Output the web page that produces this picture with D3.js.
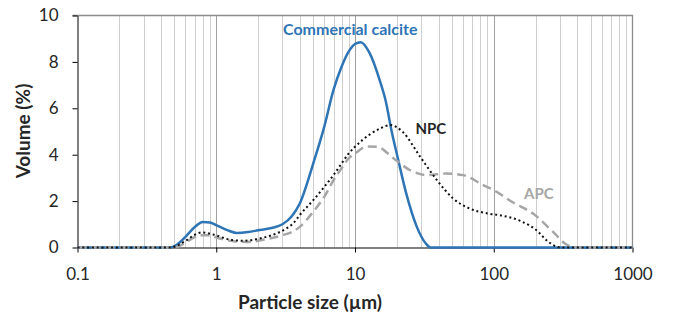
<!DOCTYPE html>
<html>
<head>
<meta charset="utf-8">
<script src="https://cdn.jsdelivr.net/npm/d3@7"></script>
<style>
  body { margin: 0; background: #fff; }
  svg { display: block; font-family: Lato, "Open Sans", sans-serif; }
</style>
</head>
<body>
<div id="container"></div>
<script>
const WIDTH = 677;
const HEIGHT = 316;
const LEFT = 77.5, RIGHT = 632.5, TOP = 15.5, BOTTOM = 247.5;

// particle size (µm) and volume (%)
const calciteSize = [0.1, 0.2, 0.3, 0.4, 0.46, 0.52, 0.6, 0.7, 0.8, 0.9, 1.0, 1.2, 1.4, 1.7, 2.0, 2.5, 3.0, 3.5, 4, 5, 6, 7, 8, 9, 10, 11, 12.7, 15.2, 16.6, 18.5, 20.5, 23.4, 27.9, 32.4, 35, 50, 100, 300, 1000];
const calciteVol = [0, 0, 0, 0, 0, 0.12, 0.46, 0.88, 1.1, 1.08, 0.96, 0.75, 0.63, 0.67, 0.74, 0.84, 1.0, 1.35, 1.9, 3.62, 5.2, 6.79, 7.79, 8.44, 8.77, 8.85, 8.4, 7.14, 6.35, 4.92, 3.77, 2.33, 0.89, 0.17, 0, 0, 0, 0, 0];

const npcSize = [0.1, 0.2, 0.3, 0.47, 0.52, 0.61, 0.7, 0.79, 0.95, 1.25, 1.57, 2.06, 2.7, 3.2, 3.6, 4, 5, 6, 7, 8, 9, 10, 12.7, 15.2, 18, 22, 29.5, 39, 51, 67, 90, 111, 155, 210, 240, 280, 300, 1000];
const npcVol = [0, 0, 0, 0, 0.08, 0.31, 0.55, 0.65, 0.56, 0.34, 0.29, 0.39, 0.6, 0.82, 1.05, 1.4, 2.04, 2.61, 3.12, 3.62, 4.05, 4.34, 4.86, 5.13, 5.28, 4.99, 3.91, 2.9, 2.11, 1.68, 1.47, 1.39, 1.15, 0.67, 0.31, 0.05, 0, 0];

const apcSize = [0.1, 0.2, 0.3, 0.48, 0.55, 0.61, 0.77, 0.86, 1.06, 1.33, 1.66, 2.3, 3.0, 3.5, 4, 5, 6, 7, 8, 9, 10, 12.1, 14.4, 19, 25, 33, 45.8, 60, 84, 100, 137, 193, 270, 330, 380, 1000];
const apcVol = [0, 0, 0, 0, 0.08, 0.24, 0.53, 0.53, 0.39, 0.27, 0.24, 0.36, 0.53, 0.67, 0.89, 1.54, 2.18, 2.9, 3.41, 3.84, 4.05, 4.35, 4.34, 3.84, 3.33, 3.12, 3.19, 3.12, 2.69, 2.47, 1.95, 1.45, 0.65, 0.15, 0, 0];

const xTicks = [0.1, 1, 10, 100, 1000];
const yTicks = [0, 2, 4, 6, 8, 10];
const minorGrid = [];
for (const d of [0.1, 1, 10, 100]) {
  for (let k = 2; k <= 9; k++) minorGrid.push(+(d * k).toPrecision(3));
}
const majorGrid = [1, 10, 100];

const svg = d3.select("#container")
  .append("svg")
  .attr("width", WIDTH)
  .attr("height", HEIGHT);

const x = d3.scaleLog().domain([0.1, 1000]).range([LEFT, RIGHT]);
const y = d3.scaleLinear().domain([0, 10]).range([BOTTOM, TOP]);

// vertical gridlines
svg.append("g")
  .selectAll("line")
  .data(minorGrid)
  .enter()
  .append("line")
  .attr("x1", (d) => Math.round(x(d)) + 0.5)
  .attr("x2", (d) => Math.round(x(d)) + 0.5)
  .attr("y1", TOP)
  .attr("y2", BOTTOM)
  .attr("stroke", "#cfcfcf")
  .attr("stroke-width", 1);

svg.append("g")
  .selectAll("line")
  .data(majorGrid)
  .enter()
  .append("line")
  .attr("x1", (d) => Math.round(x(d)) + 0.5)
  .attr("x2", (d) => Math.round(x(d)) + 0.5)
  .attr("y1", TOP)
  .attr("y2", BOTTOM)
  .attr("stroke", "#a0a0a0")
  .attr("stroke-width", 1);

// top and right border
svg.append("path")
  .attr("d", `M${LEFT - 5},${TOP}H${RIGHT}V${BOTTOM}`)
  .attr("fill", "none")
  .attr("stroke", "#8c8c8c")
  .attr("stroke-width", 1.3);

// axes
const xAxis = d3.axisBottom(x)
  .tickValues(xTicks)
  .tickFormat((d) => String(d))
  .tickSize(5)
  .tickSizeOuter(0)
  .tickPadding(15);

const yAxis = d3.axisLeft(y)
  .tickValues(yTicks)
  .tickSize(5)
  .tickSizeOuter(0)
  .tickPadding(14);

const gx = svg.append("g")
  .attr("transform", `translate(0, ${BOTTOM})`)
  .call(xAxis);
const gy = svg.append("g")
  .attr("transform", `translate(${LEFT}, 0)`)
  .call(yAxis);

[gx, gy].forEach((g) => {
  g.select(".domain").attr("stroke", "#000");
  g.selectAll(".tick line").attr("stroke", "#000");
  g.selectAll(".tick text")
    .attr("fill", "#262626")
    .style("font-size", "17px")
    .style("font-family", "Lato, sans-serif");
});

// series
const line = d3.line()
  .x((d) => x(d[0]))
  .y((d) => y(d[1]))
  .curve(d3.curveMonotoneX);

const zip = (a, b) => a.map((v, i) => [v, b[i]]);

svg.append("path")
  .datum(zip(calciteSize, calciteVol))
  .attr("d", line)
  .attr("fill", "none")
  .attr("stroke", "#2e75b6")
  .attr("stroke-width", 2.5);

svg.append("path")
  .datum(zip(apcSize, apcVol))
  .attr("d", line)
  .attr("fill", "none")
  .attr("stroke", "#a6a6a6")
  .attr("stroke-width", 2.5)
  .attr("stroke-dasharray", "9,5");

svg.append("path")
  .datum(zip(npcSize, npcVol))
  .attr("d", line)
  .attr("fill", "none")
  .attr("stroke", "#111")
  .attr("stroke-width", 2)
  .attr("stroke-dasharray", "2,2.8");

// series labels
svg.append("text")
  .attr("x", 283)
  .attr("y", 35)
  .attr("fill", "#2e75b6")
  .style("font-size", "16px")
  .style("font-weight", "bold")
  .text("Commercial calcite");

svg.append("text")
  .attr("x", 415.5)
  .attr("y", 133.5)
  .attr("fill", "#262626")
  .style("font-size", "15px")
  .style("font-weight", "bold")
  .text("NPC");

svg.append("text")
  .attr("x", 524)
  .attr("y", 199)
  .attr("fill", "#a6a6a6")
  .style("font-size", "15px")
  .style("font-weight", "bold")
  .text("APC");

// axis titles
svg.append("text")
  .attr("x", 310)
  .attr("y", 309)
  .attr("text-anchor", "middle")
  .attr("fill", "#262626")
  .style("font-size", "19px")
  .style("font-weight", "bold")
  .text("Particle size (µm)");

svg.append("text")
  .attr("transform", "translate(30, 131) rotate(-90)")
  .attr("text-anchor", "middle")
  .attr("fill", "#262626")
  .style("font-size", "19px")
  .style("font-weight", "bold")
  .text("Volume (%)");
</script>
</body>
</html>
